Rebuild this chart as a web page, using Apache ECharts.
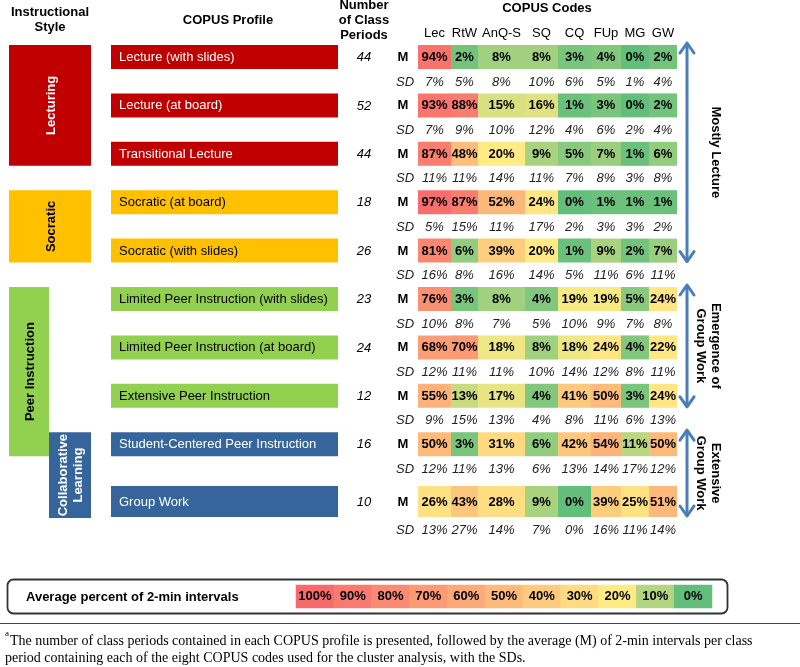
<!DOCTYPE html>
<html><head><meta charset="utf-8">
<script src="https://cdn.jsdelivr.net/npm/echarts/dist/echarts.min.js"></script>
<style>html,body{margin:0;padding:0;background:#fff}#c{width:800px;height:667px}</style>
</head><body><div id="c"></div>
<script>
// ---------- DATA ----------
const codes = ['Lec','RtW','AnQ-S','SQ','CQ','FUp','MG','GW'];
const profiles = ['Lecture (with slides)','Lecture (at board)','Transitional Lecture','Socratic (at board)','Socratic (with slides)','Limited Peer Instruction (with slides)','Limited Peer Instruction (at board)','Extensive Peer Instruction','Student-Centered Peer Instruction','Group Work'];
const profileStyle = [0,0,0,1,1,2,2,2,3,3];
const classPeriods = [44,52,44,18,26,23,24,12,16,10];
const meanPct = [
  [94,2,8,8,3,4,0,2],
  [93,88,15,16,1,3,0,2],
  [87,48,20,9,5,7,1,6],
  [97,87,52,24,0,1,1,1],
  [81,6,39,20,1,9,2,7],
  [76,3,8,4,19,19,5,24],
  [68,70,18,8,18,24,4,22],
  [55,13,17,4,41,50,3,24],
  [50,3,31,6,42,54,11,50],
  [26,43,28,9,0,39,25,51]
];
const sdPct = [
  [7,5,8,10,6,5,1,4],
  [7,9,10,12,4,6,2,4],
  [11,11,14,11,7,8,3,8],
  [5,15,11,17,2,3,3,2],
  [16,8,16,14,5,11,6,11],
  [10,8,7,5,10,9,7,8],
  [12,11,11,10,14,12,8,11],
  [9,15,13,4,8,11,6,13],
  [12,11,13,6,13,14,17,12],
  [13,27,14,7,0,16,11,14]
];
const styleNames = ['Lecturing','Socratic','Peer Instruction','Collaborative\nLearning'];
const styleRows = [[0,2],[3,4],[5,8],[8,9]];
const clusterNames = ['Mostly Lecture','Emergence of\nGroup Work','Extensive\nGroup Work'];
const clusterRows = [[0,4],[5,7],[8,9]];
const legendValues = [100,90,80,70,60,50,40,30,20,10,0];

// ---------- LAYOUT ----------
const L = {
  colEdges:[418,451,478,525,558,591,621,649,677],
  rowShift:[0,0,0,0,0,0,0,0,0,5.4],
  cellH:[24,24,24,24,24,24,24,24,24,31],
  barX:[111,338], numX:364, mX:403, sdX:405,
  styleX:[[9,91],[9,91],[9,49],[49,91]],
  styleColor:['#C00000','#FFC000','#92D050','#35659A'],
  styleText:['#ffffff','#000000','#000000','#ffffff'],
  arrowX:687, arrowColor:'#4A7EBB'
};
const FF = '"Liberation Sans", Arial, sans-serif';
const SERIF = '"Liberation Serif", "Times New Roman", serif';

function rowGeom(api,i){
  const c = api.coord([0,i]);
  const band = api.size([0,1])[1];
  return {top: c[1]-band/2+L.rowShift[i], h: L.cellH[i]};
}
function px(api,x){ return api.coord([x,0])[0]; }
function txt(x,y,text,o){
  o = o||{};
  return {type:'text', x:x, y:y, rotation:o.rotation||0, silent:true,
    style:{text:text, x:0, y:0, fill:o.fill||'#000', fontSize:o.size||13, fontFamily:FF,
      fontWeight:o.weight||'normal', fontStyle:o.style||'normal', lineHeight:o.lh||15,
      align:o.align||'center', verticalAlign:'middle', textAlign:o.align||'center', textVerticalAlign:'middle'}};
}
function gtext(x,y,text,o){
  o = o||{};
  return {type:'text', x:x, y:y, silent:true,
    style:{text:text, x:0, y:0, fill:'#000', fontSize:o.size||13, fontFamily:o.family||FF,
      fontWeight:o.weight||'normal', lineHeight:o.lh||15,
      align:o.align||'center', verticalAlign:'middle', textAlign:o.align||'center', textVerticalAlign:'middle'}};
}

const cellData=[], sdData=[];
meanPct.forEach((row,r)=>row.forEach((v,c)=>cellData.push([c,r,v])));
sdPct.forEach((row,r)=>row.forEach((v,c)=>sdData.push([c,r,v])));

const option = {
  animation:false,
  grid:[
    {left:0,right:0,top:45,height:484},
    {left:296,top:585,width:416,height:23}
  ],
  xAxis:[
    {type:'value',min:0,max:800,show:false,gridIndex:0},
    {type:'category',data:legendValues.map(v=>v+'%'),show:false,gridIndex:1}
  ],
  yAxis:[
    {type:'category',data:profiles,inverse:true,show:false,gridIndex:0},
    {type:'category',data:[''],show:false,gridIndex:1}
  ],
  visualMap:{type:'continuous',min:0,max:100,show:false,dimension:2,seriesIndex:[0,7],
    inRange:{color:['#63BE7B','#FFEB84','#FDCB7E','#FCAA78','#FA8A71','#F8696B']}},
  series:[
    { // 0 mean cells
      type:'custom', data:cellData, encode:{x:0,y:1},
      renderItem:(p,api)=>{
        const c=api.value(0), r=api.value(1), v=api.value(2);
        const g=rowGeom(api,r);
        const x0=px(api,L.colEdges[c]), x1=px(api,L.colEdges[c+1]);
        return {type:'group',children:[
          {type:'rect',shape:{x:x0,y:g.top,width:x1-x0,height:g.h},style:{fill:api.visual('color')}},
          txt((x0+x1)/2, g.top+g.h/2+0.5, v+'%', {weight:'bold'})
        ]};
      }
    },
    { // 1 sd texts
      type:'custom', data:sdData, encode:{x:0,y:1},
      renderItem:(p,api)=>{
        const c=api.value(0), r=api.value(1), v=api.value(2);
        const g=rowGeom(api,r);
        const x0=px(api,L.colEdges[c]), x1=px(api,L.colEdges[c+1]);
        return txt((x0+x1)/2, g.top+g.h+13, v+'%', {style:'italic', fill:'#222'});
      }
    },
    { // 2 profile bars
      type:'custom', data:profiles.map((n,r)=>[0,r,profileStyle[r]]), encode:{x:0,y:1},
      renderItem:(p,api)=>{
        const r=api.value(1), s=api.value(2);
        const g=rowGeom(api,r);
        const x0=px(api,L.barX[0]), x1=px(api,L.barX[1]);
        return {type:'group',children:[
          {type:'rect',shape:{x:x0,y:g.top,width:x1-x0,height:g.h},style:{fill:L.styleColor[s]}},
          txt(x0+8, g.top+g.h/2+0.5, profiles[r], {align:'left', fill:L.styleText[s]})
        ]};
      }
    },
    { // 3 class period numbers + M / SD labels
      type:'custom', data:classPeriods.map((n,r)=>[0,r,n]), encode:{x:0,y:1},
      renderItem:(p,api)=>{
        const r=api.value(1), n=api.value(2);
        const g=rowGeom(api,r);
        const yc=g.top+g.h/2+0.5;
        return {type:'group',children:[
          txt(px(api,L.numX), yc, String(n), {style:'italic'}),
          txt(px(api,L.mX), yc, 'M', {weight:'bold'}),
          txt(px(api,L.sdX), g.top+g.h+13, 'SD', {style:'italic', fill:'#222'})
        ]};
      }
    },
    { // 4 instructional style blocks
      type:'custom', data:styleRows.map((sr,i)=>[0,sr[0],sr[1],i]), encode:{x:0,y:1},
      renderItem:(p,api)=>{
        const s=api.value(1), e=api.value(2), i=api.value(3);
        const gs=rowGeom(api,s), ge=rowGeom(api,e);
        const x0=px(api,L.styleX[i][0]), x1=px(api,L.styleX[i][1]);
        const y0=gs.top, y1=ge.top+ge.h+(i===3?1:0);
        return {type:'group',children:[
          {type:'rect',shape:{x:x0,y:y0,width:x1-x0,height:y1-y0},style:{fill:L.styleColor[i]}},
          txt((x0+x1)/2+1, (y0+y1)/2, styleNames[i], {weight:'bold', fill:L.styleText[i], rotation:Math.PI/2, lh:15})
        ]};
      }
    },
    { // 5 code headers
      type:'custom', data:codes.map((c,i)=>[i,0]), encode:{x:0,y:1},
      renderItem:(p,api)=>{
        const c=api.value(0);
        const g=rowGeom(api,0);
        const x0=px(api,L.colEdges[c]), x1=px(api,L.colEdges[c+1]);
        return txt((x0+x1)/2, g.top-12, codes[c], {});
      }
    },
    { // 6 cluster arrows
      type:'custom', data:clusterRows.map((cr,i)=>[0,cr[0],cr[1],i]), encode:{x:0,y:1},
      renderItem:(p,api)=>{
        const s=api.value(1), e=api.value(2), i=api.value(3);
        const gs=rowGeom(api,s), ge=rowGeom(api,e);
        const x=px(api,L.arrowX);
        const y0=gs.top-3, y1=ge.top+ge.h;
        const st={stroke:L.arrowColor,lineWidth:3,fill:null,lineCap:'round',lineJoin:'round'};
        const twoLine = clusterNames[i].indexOf('\n')>=0;
        return {type:'group',children:[
          {type:'line',shape:{x1:x,y1:y0+2,x2:x,y2:y1-2},style:st},
          {type:'polyline',shape:{points:[[x-7,y0+11],[x,y0+1],[x+7,y0+11]]},style:st},
          {type:'polyline',shape:{points:[[x-7,y1-11],[x,y1-1],[x+7,y1-11]]},style:st},
          txt(x+(twoLine?21.5:29), (y0+y1)/2, clusterNames[i], {weight:'bold', rotation:-Math.PI/2, lh:15})
        ]};
      }
    },
    { // 7 legend scale
      type:'heatmap', xAxisIndex:1, yAxisIndex:1,
      data:legendValues.map((v,i)=>[i,0,v]),
      label:{show:true, formatter:p=>p.value[2]+'%', fontWeight:'bold', fontSize:13, fontFamily:FF, color:'#000'},
      itemStyle:{borderWidth:0}, emphasis:{disabled:true}
    }
  ],
  graphic:[
    gtext(50,20,'Instructional\nStyle',{weight:'bold'}),
    gtext(228,20,'COPUS Profile',{weight:'bold'}),
    gtext(364,20,'Number\nof Class\nPeriods',{weight:'bold'}),
    gtext(547,8,'COPUS Codes',{weight:'bold'}),
    {type:'rect',shape:{x:7.5,y:579.5,width:720,height:34,r:6},style:{fill:'none',stroke:'#333',lineWidth:1.8},z:-1},
    gtext(26,597,'Average percent of 2-min intervals',{weight:'bold',align:'left'}),
    {type:'line',shape:{x1:0,y1:623.5,x2:800,y2:623.5},style:{stroke:'#444',lineWidth:1.2}},
    gtext(5,634,'a',{size:9,family:SERIF,align:'left'}),
    gtext(10,641,'The number of class periods contained in each COPUS profile is presented, followed by the average (M) of 2-min intervals per class',{size:14,family:SERIF,align:'left'}),
    gtext(5,658,'period containing each of the eight COPUS codes used for the cluster analysis, with the SDs.',{size:14,family:SERIF,align:'left'})
  ]
};
const chart = echarts.init(document.getElementById('c'), null, {renderer:'canvas'});
chart.setOption(option);
</script>
</body></html>
